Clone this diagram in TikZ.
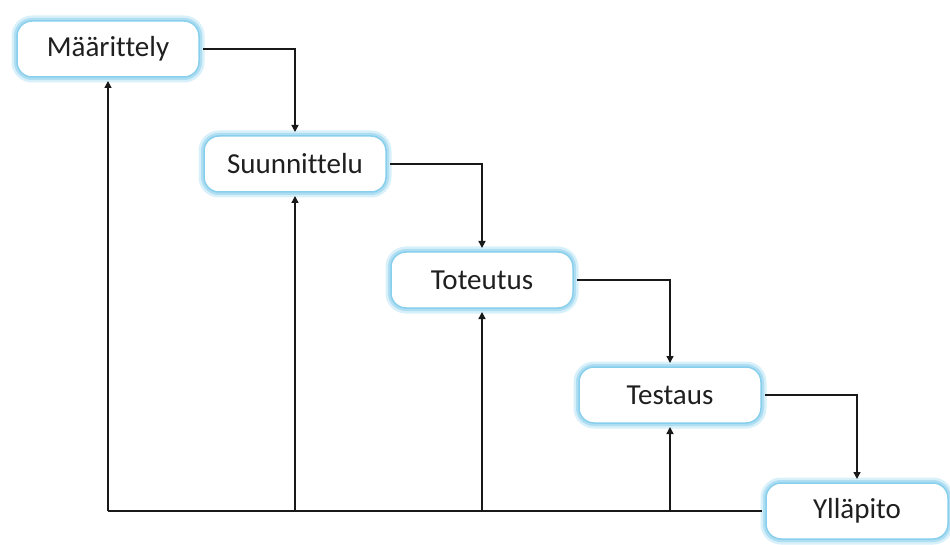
\documentclass[tikz,border=0pt]{standalone}
\usepackage{fontspec}
\setmainfont{Carlito}[Ligatures={NoCommon}]
\usetikzlibrary{arrows.meta}
\definecolor{glowout}{RGB}{215,240,250}
\definecolor{glowmid}{RGB}{175,222,242}
\definecolor{glowin}{RGB}{135,207,236}
\tikzset{
  phase/.style={rounded corners=15pt, fill=white, minimum width=182pt, minimum height=56pt,
    font=\fontsize{29}{33}\selectfont, text=black!88, outer sep=4pt,
    preaction={draw=glowout, line width=11pt},
    preaction={draw=glowmid, line width=6pt},
    draw=glowin, line width=1.5pt},
  conn/.style={draw=black!90, line width=1.4pt, -{Triangle[width=7pt,length=7pt]}},
  plain/.style={draw=black!90, line width=1.4pt}
}
\begin{document}
\begin{tikzpicture}[x=1pt,y=1pt]
\useasboundingbox (0,0) rectangle (950,-545);
\node[phase] (m) at (108,-49) {Määrittely};
\node[phase] (s) at (295,-164) {Suunnittelu};
\node[phase] (t) at (482,-280) {Toteutus};
\node[phase] (te) at (670,-395) {Testaus};
\node[phase] (y) at (857,-511) {Ylläpito};
\draw[conn] (m.east) -| (s.north);
\draw[conn] (s.east) -| (t.north);
\draw[conn] (t.east) -| (te.north);
\draw[conn] (te.east) -| (y.north);
\coordinate (b1) at (108,-511);
\coordinate (b2) at (295,-511);
\coordinate (b3) at (482,-511);
\coordinate (b4) at (670,-511);
\draw[plain] (y.west) -- (b1);
\draw[conn] (b1) -- (m.south);
\draw[conn] (b2) -- (s.south);
\draw[conn] (b3) -- (t.south);
\draw[conn] (b4) -- (te.south);
\end{tikzpicture}
\end{document}
